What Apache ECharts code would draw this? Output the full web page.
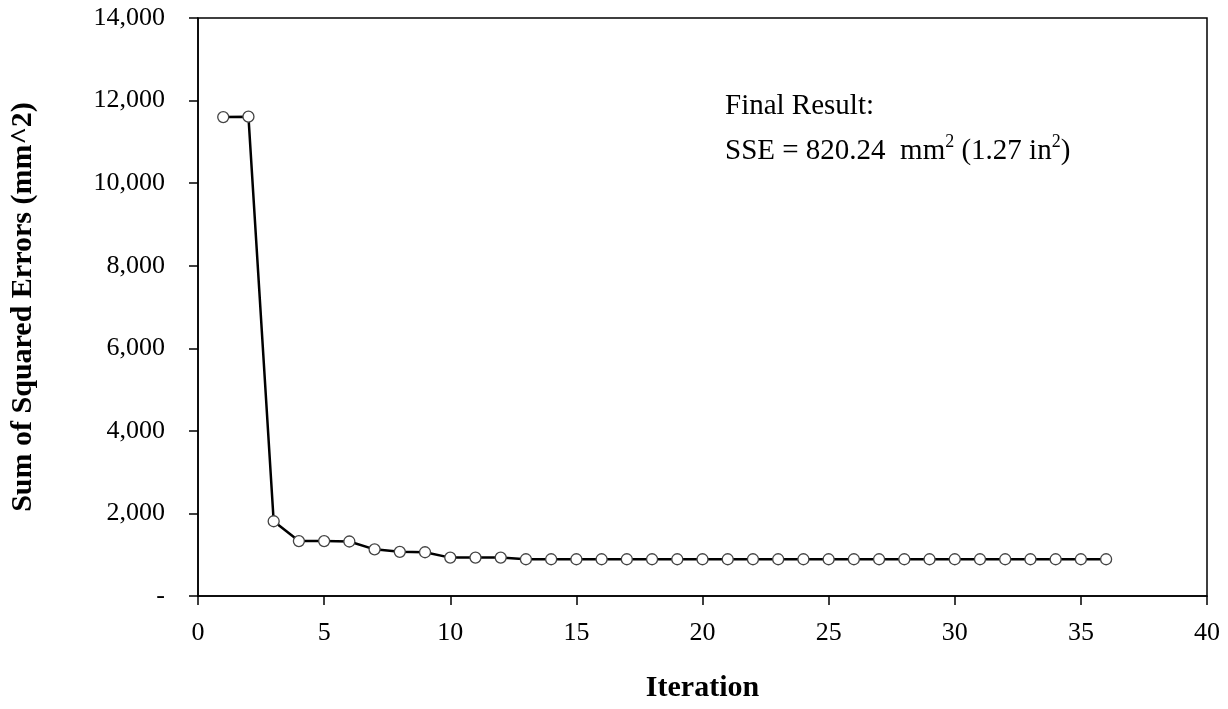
<!DOCTYPE html>
<html>
<head>
<meta charset="utf-8">
<script src="https://cdn.jsdelivr.net/npm/echarts@6/dist/echarts.min.js"></script>
<style>
    html, body { margin: 0; padding: 0; background: #fff; }
    #sseChart { width: 1228px; height: 709px; }
</style>
</head>
<body>
<div id="sseChart"></div>
<script>
// values
var iterations = [1,2,3,4,5,6,7,8,9,10,11,12,13,14,15,16,17,18,19,20,21,22,23,24,25,26,27,28,29,30,31,32,33,34,35,36];
var sseValues = [11600,11610,1810,1330,1330,1320,1130,1070,1060,930,930,930,
                 890,890,890,890,890,890,890,890,890,890,890,890,890,890,890,890,890,890,890,890,890,890,890,890];

var fontFam = '"Liberation Serif", "Times New Roman", serif';

var chart = echarts.init(document.getElementById('sseChart'));
chart.setOption({
    animation: false,
    backgroundColor: '#fff',
    grid: { left: 196, right: 21, top: 18, bottom: 113, show: true, borderColor: '#000', borderWidth: 1.5 },
    xAxis: {
        type: 'value',
        min: 0, max: 40, interval: 5,
        name: 'Iteration',
        nameLocation: 'middle',
        nameGap: 77,
        nameTextStyle: { fontFamily: fontFam, fontSize: 30, fontWeight: 'bold', color: '#000' },
        axisLine: { show: true, lineStyle: { color: '#000', width: 1.5 } },
        axisTick: { show: true, inside: false, length: 9, lineStyle: { color: '#000', width: 1.5 } },
        axisLabel: { fontFamily: fontFam, fontSize: 26, color: '#000', margin: 24 },
        splitLine: { show: false }
    },
    yAxis: {
        type: 'value',
        min: 0, max: 14000, interval: 2000,
        name: 'Sum of Squared Errors (mm^2)',
        nameLocation: 'middle',
        nameGap: 160,
        nameTextStyle: { fontFamily: fontFam, fontSize: 30, fontWeight: 'bold', color: '#000' },
        axisLine: { show: true, lineStyle: { color: '#000', width: 1.5 } },
        axisTick: { show: true, inside: false, length: 9, lineStyle: { color: '#000', width: 1.5 } },
        axisLabel: {
            fontFamily: fontFam, fontSize: 26, color: '#000', margin: 33,
            formatter: function (v) { return v === 0 ? '-' : v.toLocaleString('en-US'); }
        },
        splitLine: { show: false }
    },
    graphic: [{
        type: 'text',
        left: 725, top: 92,
        style: {
            rich: {
                t: { fontFamily: fontFam, fontSize: 29, fill: '#000', lineHeight: 45 },
                s: { fontFamily: fontFam, fontSize: 18, fill: '#000', lineHeight: 45, verticalAlign: 'top', padding: [4, 0, 0, 0] }
            },
            text: '{t|Final Result:}\n{t|SSE = 820.24  mm}{s|2}{t| (1.27 in}{s|2}{t|)}'
        }
    }],
    series: [{
        type: 'line',
        data: iterations.map(function (it, i) { return [it, sseValues[i]]; }),
        symbol: 'circle',
        symbolSize: 11,
        lineStyle: { color: '#000', width: 2.5 },
        itemStyle: { color: '#fff', borderColor: '#444', borderWidth: 1.3 }
    }]
});
</script>
</body>
</html>
